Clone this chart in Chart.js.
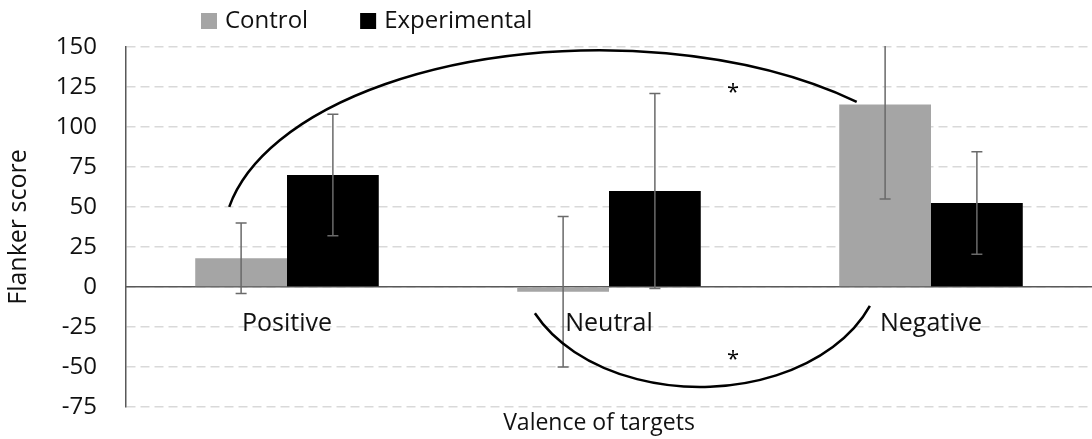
<!DOCTYPE html>
<html>
<head>
<meta charset="utf-8">
<title>Flanker score by valence of targets</title>
<script src="https://cdn.jsdelivr.net/npm/chart.js"></script>
<style>
  html, body { margin: 0; padding: 0; background: #fff; overflow: hidden; }
  #chart { display: block; }
</style>
</head>
<body>
<canvas id="chart" width="1092" height="439"></canvas>
<script>
// chart values
const categories = ["Positive", "Neutral", "Negative"];
const controlScores = [18, -3, 114];
const controlErrors = [22, 47, 59];
const experimentalScores = [70, 60, 52.5];
const experimentalErrors = [38, 61, 32];
const yTickValues = [-75, -50, -25, 0, 25, 50, 75, 100, 125, 150];

const FONT = "'Open Sans', 'Noto Sans', sans-serif";
const TEXT = "#111";

// significance arcs, in category index / score units
const sigArcs = [
  { cx: 0.97, cy: 29, rx: 1.168, ry: 119, from: 3.32, to: 5.466, ccw: false, starX: 1.385, starY: 124 },
  { cx: 1.283, cy: 16.7, rx: 0.565, ry: 79.2, from: 2.71, to: 0.368, ccw: true, starX: 1.385, starY: -43 }
];

// draw the +/- error whiskers on each bar
const errorBars = {
  id: "errorBars",
  afterDatasetsDraw(chart) {
    const { ctx, chartArea, scales: { y } } = chart;
    ctx.save();
    ctx.beginPath();
    ctx.rect(chartArea.left, chartArea.top - 1, chartArea.right - chartArea.left, chartArea.bottom - chartArea.top + 2);
    ctx.clip();
    ctx.strokeStyle = "#6a6a6a";
    ctx.lineWidth = 1.5;
    chart.data.datasets.forEach((ds, i) => {
      chart.getDatasetMeta(i).data.forEach((bar, j) => {
        const hi = y.getPixelForValue(ds.data[j] + ds.errors[j]);
        const lo = y.getPixelForValue(ds.data[j] - ds.errors[j]);
        ctx.beginPath();
        ctx.moveTo(bar.x, hi);
        ctx.lineTo(bar.x, lo);
        ctx.moveTo(bar.x - 5.5, hi);
        ctx.lineTo(bar.x + 5.5, hi);
        ctx.moveTo(bar.x - 5.5, lo);
        ctx.lineTo(bar.x + 5.5, lo);
        ctx.stroke();
      });
    });
    ctx.restore();
  }
};

// arcs, asterisks, legend and x title
const extras = {
  id: "extras",
  afterDraw(chart) {
    const { ctx, scales: { x, y } } = chart;
    const catW = x.getPixelForValue(1) - x.getPixelForValue(0);
    const unitH = y.getPixelForValue(0) - y.getPixelForValue(1);
    ctx.save();

    ctx.strokeStyle = "#000";
    ctx.lineWidth = 2.5;
    ctx.fillStyle = "#000";
    ctx.font = `22px ${FONT}`;
    ctx.textAlign = "center";
    ctx.textBaseline = "middle";
    sigArcs.forEach(a => {
      ctx.beginPath();
      ctx.ellipse(x.getPixelForValue(a.cx), y.getPixelForValue(a.cy), a.rx * catW, a.ry * unitH, 0, a.from, a.to, a.ccw);
      ctx.stroke();
      ctx.fillText("*", x.getPixelForValue(a.starX), y.getPixelForValue(a.starY) + 4);
    });

    // legend
    ctx.font = `24px ${FONT}`;
    ctx.textAlign = "left";
    let lx = 201;
    chart.data.datasets.forEach(ds => {
      ctx.fillStyle = ds.backgroundColor;
      ctx.fillRect(lx, 13, 16, 16);
      ctx.fillStyle = TEXT;
      ctx.fillText(ds.label, lx + 24, 21);
      lx += 24 + ctx.measureText(ds.label).width + 52;
    });

    // x axis title
    ctx.font = `23px ${FONT}`;
    ctx.textAlign = "center";
    ctx.fillText("Valence of targets", x.getPixelForValue(1) - 10, 423);
    ctx.restore();
  }
};

new Chart(document.getElementById("chart"), {
  type: "bar",
  data: {
    labels: categories,
    datasets: [
      { label: "Control", data: controlScores, errors: controlErrors, backgroundColor: "#a5a5a5" },
      { label: "Experimental", data: experimentalScores, errors: experimentalErrors, backgroundColor: "#000000" }
    ]
  },
  options: {
    responsive: false,
    animation: false,
    events: [],
    categoryPercentage: 0.57,
    barPercentage: 1.0,
    layout: { padding: { top: 47, bottom: 32, left: 0, right: 0 } },
    plugins: {
      legend: { display: false },
      tooltip: { enabled: false }
    },
    scales: {
      x: {
        position: { y: 0 },
        afterFit: s => { s.height = 0; s.paddingTop = 0; s.paddingBottom = 0; },
        grid: { display: false, drawTicks: false },
        border: { display: true, color: "#595959", width: 1.5 },
        ticks: { padding: 22, color: TEXT, font: { family: FONT, size: 25 } }
      },
      y: {
        min: -75,
        max: 150,
        afterBuildTicks: s => { s.ticks = yTickValues.map(v => ({ value: v })); },
        afterFit: s => { s.width = 126; s.paddingTop = 0; s.paddingBottom = 0; },
        grid: { color: "#d9d9d9", lineWidth: 1.5, drawTicks: false },
        border: { display: true, color: "#595959", width: 1.5, dash: [9, 5] },
        ticks: { padding: 29, color: TEXT, font: { family: FONT, size: 24 } },
        title: { display: true, text: "Flanker score", color: TEXT, font: { family: FONT, size: 25 }, padding: { top: 4, bottom: 0 } }
      }
    }
  },
  plugins: [errorBars, extras]
});
</script>
</body>
</html>
